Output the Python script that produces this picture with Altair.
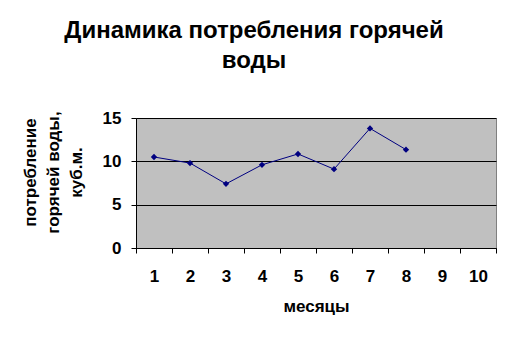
import altair as alt
import pandas as pd

months = [1, 2, 3, 4, 5, 6, 7, 8, 9, 10]
values = [10.5, 9.8, 7.4, 9.6, 10.85, 9.1, 13.8, 11.35, None, None]

df = pd.DataFrame({"month": months, "value": values})
df_pts = df.dropna()

FONT = "Liberation Sans"

x = alt.X("month:O", sort=months,
          scale=alt.Scale(domain=months, paddingInner=0, paddingOuter=0),
          axis=alt.Axis(title="месяцы", labelAngle=0, tickBand="extent",
                        labelFont=FONT, labelFontSize=17, labelFontWeight="bold",
                        labelColor="black", labelPadding=15,
                        titleFont=FONT, titleFontSize=17, titleFontWeight="bold",
                        titleColor="black", titlePadding=14,
                        domainColor="black", tickColor="black", tickSize=5,
                        grid=False))
y = alt.Y("value:Q", scale=alt.Scale(domain=[0, 15]),
          axis=alt.Axis(title=["потребление", "горячей воды,", "куб.м."],
                        values=[0, 5, 10, 15], labelFont=FONT, labelFontSize=17,
                        labelFontWeight="bold", labelColor="black", labelPadding=10,
                        titleFont=FONT, titleFontSize=17, titleFontWeight="bold",
                        titleColor="black", titlePadding=17, titleLineHeight=23,
                        titleY=54,
                        domainColor="black", tickColor="black", tickSize=5,
                        gridColor="black", gridWidth=1))

line = alt.Chart(df_pts).mark_line(color="#000080", strokeWidth=1).encode(x=x, y=y)
pts = alt.Chart(df_pts).mark_point(shape="diamond", filled=True, color="#000080",
                                   size=40, opacity=1).encode(x=x, y=y)

chart = (line + pts).properties(
    width=360, height=130,
    title=alt.TitleParams(["Динамика потребления горячей", "воды"], font=FONT,
                          fontSize=24, fontWeight="bold", color="black",
                          anchor="middle", dx=-62, offset=36, lineHeight=30),
    autosize=alt.AutoSizeParams(type="none"),
    padding={"left": 136, "top": 118, "right": 15, "bottom": 93},
    background="white",
).configure_view(fill="#C0C0C0", stroke="#808080", strokeWidth=1)

chart.save("out.html", embed_options={"renderer": "svg", "actions": False})
